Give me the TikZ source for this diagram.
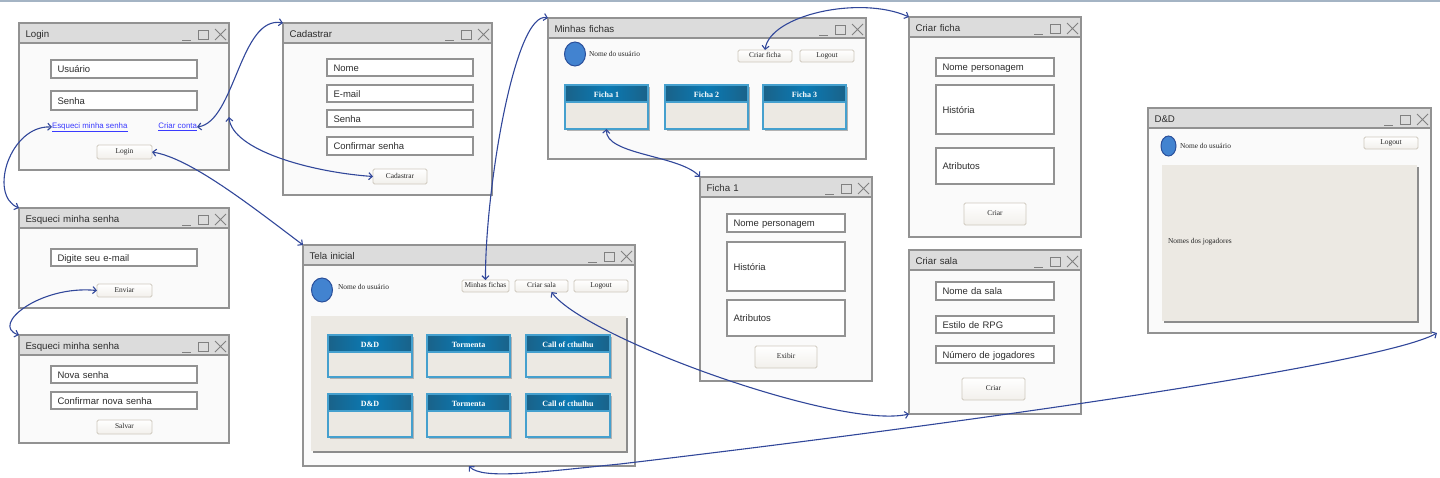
\documentclass[tikz,border=0pt]{standalone}
\usepackage{fontspec}
\setmainfont{Liberation Serif}
\setsansfont{Liberation Sans}
\usetikzlibrary{arrows.meta,shapes.geometric,shadows}
\definecolor{winborder}{HTML}{929292}
\definecolor{winfill}{HTML}{FAFAFA}
\definecolor{winbar}{HTML}{DCDCDC}
\definecolor{wintext}{HTML}{2E2E2E}
\definecolor{panelfill}{HTML}{ECE9E3}
\definecolor{cardedge}{HTML}{45A0CE}
\definecolor{carddark}{HTML}{1A6289}
\definecolor{cardmid}{HTML}{0A7AB4}
\definecolor{btnedge}{HTML}{CFC9BE}
\definecolor{flowblue}{HTML}{31479A}
\definecolor{linkblue}{HTML}{3A3AFF}
\definecolor{avatarfill}{HTML}{4283D0}
\definecolor{avataredge}{HTML}{2A4F9A}
\tikzset{
  every node/.style={inner sep=0, outer sep=0},
  winbox/.style={draw=winborder, line width=1.3pt, fill=winfill, anchor=north west},
  winbar/.style={draw=winborder, line width=1.3pt, fill=winbar, anchor=north west, minimum height=20, align=left,
    text=wintext, text height=9, text depth=1, font=\sffamily\fontsize{9.7}{11}\selectfont},
  winctrl/.style={draw=black!50, line width=0.8pt},
  field/.style 2 args={draw=winborder, line width=1.3pt, fill=white, anchor=north west, minimum width=#1, minimum height=#2,
    text width=#1-13, inner xsep=6.5, align=left, text=wintext, text height=9.5, text depth=2,
    font=\sffamily\fontsize{9.5}{11}\selectfont},
  btn/.style 2 args={draw=btnedge, line width=0.8pt, rounded corners=1.5pt, top color=white, bottom color=panelfill!70,
    anchor=north west, minimum width=#1, minimum height=#2, text=black!85, text height=5, text depth=1.5,
    font=\fontsize{7.4}{9}\selectfont},
  usertext/.style={anchor=west, text=black!85, font=\fontsize{7.4}{9}\selectfont},
  link/.style={anchor=west, text=linkblue, font=\sffamily\fontsize{7.9}{9}\selectfont},
  avatar/.style={ellipse, draw=avataredge, line width=1pt, fill=avatarfill},
  panel/.style={fill=panelfill, anchor=north west, drop shadow={shadow xshift=1.6pt, shadow yshift=-1.6pt, fill=black!45, opacity=1}},
  cardbody/.style={draw=cardedge, line width=1.3pt, fill=panelfill, anchor=north west,
    drop shadow={shadow xshift=1.8pt, shadow yshift=-1.8pt, fill=black!30, opacity=1}},
  cardhead/.style={draw=cardedge, line width=1.3pt, left color=carddark, right color=carddark, middle color=cardmid,
    anchor=north west, minimum height=17, text=white, text height=7, text depth=0, font=\bfseries\fontsize{8}{9}\selectfont},
  flow/.style={draw=flowblue, line width=1.1pt, {Straight Barb[length=3.5pt,width=7pt]}-{Straight Barb[length=3.5pt,width=7pt]}},
}
% window with title bar and the three controls
\newcommand{\appwin}[6]{%
  \node[winbox, minimum width=#4, minimum height=#5] (#1) at (#2,#3) {};
  \node[winbar, minimum width=#4, text width=#4-13, inner xsep=6.5] (#1bar) at (#1.north west) {#6};
  \begin{scope}[shift={(#1.north east)}]
    \draw[winctrl] (-47,17) -- (-38,17);
    \draw[winctrl] (-30.5,7) rectangle (-21,16);
    \draw[winctrl] (-14,6) -- (-3,17) (-14,17) -- (-3,6);
  \end{scope}
}
% card with gradient head
\newcommand{\appcard}[6]{%
  \node[cardbody, minimum width=#4, minimum height=#5] (#1) at (#2,#3) {};
  \node[cardhead, minimum width=#4] (#1head) at (#1.north west) {#6};
}
\begin{document}
\begin{tikzpicture}[x=1pt,y=-1pt]
  \useasboundingbox (0,0) rectangle (1440,477);
  \fill[color={rgb,255:red,164;green,180;blue,196}] (0,0) rectangle (1440,1.5);

  % login
  \appwin{login}{19}{23}{210}{147}{Login}
  \node[field={146}{18}] (loginuser) at (51,60) {Usuário};
  \node[field={146}{19}] (loginpass) at (51,91) {Senha};
  \node[link] (linkforgot) at (52,127) {\underline{Esqueci minha senha}};
  \node[link, anchor=east] (linknew) at (197,127) {\underline{Criar conta}};
  \node[btn={55}{14}] (btnlogin) at (97,145) {Login};

  % cadastrar
  \appwin{signup}{283}{23}{209}{172}{Cadastrar}
  \node[field={146}{17}] (signupname) at (327,59) {Nome};
  \node[field={146}{17}] (signupmail) at (327,85) {E-mail};
  \node[field={146}{17}] (signuppass) at (327,110) {Senha};
  \node[field={146}{18}] (signupconf) at (327,137) {Confirmar senha};
  \node[btn={54}{15}] (btnsignup) at (373,169) {Cadastrar};

  % esqueci minha senha
  \appwin{forgot}{19}{208}{210}{100}{Esqueci minha senha}
  \node[field={146}{17}] (forgotmail) at (51,249) {Digite seu e-mail};
  \node[btn={55}{13}] (btnsend) at (97,284) {Enviar};
  \appwin{reset}{19}{335}{210}{108}{Esqueci minha senha}
  \node[field={146}{17}] (resetnew) at (51,366) {Nova senha};
  \node[field={146}{17}] (resetconf) at (51,392) {Confirmar nova senha};
  \node[btn={55}{14}] (btnsave) at (97,420) {Salvar};

  % tela inicial
  \appwin{home}{303}{245}{332}{221}{Tela inicial}
  \node[avatar, minimum width=21, minimum height=24] (homeavatar) at (322,290) {};
  \node[usertext] (homeuser) at (338,287) {Nome do usuário};
  \node[btn={47}{12}] (btnsheets) at (462,280) {Minhas fichas};
  \node[btn={53}{12}] (btnroom) at (515,280) {Criar sala};
  \node[btn={54}{12}] (btnhomeout) at (574,280) {Logout};
  \node[panel, minimum width=315, minimum height=135] (homepanel) at (311,316) {};
  \foreach \cardy/\cardh/\rown in {335/42/a, 394/43/b}
    \foreach \cardx/\cardw/\cardt/\coln in {328/84/D\&D/x, 427/83/Tormenta/y, 526/84/Call of cthulhu/z}
      {\appcard{room\rown\coln}{\cardx}{\cardy}{\cardw}{\cardh}{\cardt}}

  % minhas fichas
  \appwin{sheets}{548}{18}{318}{141}{Minhas fichas}
  \node[avatar, minimum width=21, minimum height=24] (sheetsavatar) at (575,54) {};
  \node[usertext] (sheetsuser) at (589,54) {Nome do usuário};
  \node[btn={54}{12}] (btnnewsheet) at (738,50) {Criar ficha};
  \node[btn={54}{12}] (btnsheetsout) at (800,50) {Logout};
  \appcard{cardone}{565}{85}{83}{44}{Ficha 1}
  \appcard{cardtwo}{665}{85}{83}{44}{Ficha 2}
  \appcard{cardthree}{763}{85}{83}{44}{Ficha 3}

  % ficha 1
  \appwin{sheetone}{700}{177}{172}{204}{Ficha 1}
  \node[field={118}{18}] (onename) at (727,214) {Nome personagem};
  \node[field={118}{49}] (onestory) at (727,242) {História};
  \node[field={118}{36}] (oneattr) at (727,300) {Atributos};
  \node[btn={62}{22}] (btnshow) at (755,346) {Exibir};

  % criar ficha
  \appwin{newsheet}{909}{17}{172}{220}{Criar ficha}
  \node[field={118}{18}] (newname) at (936,58) {Nome personagem};
  \node[field={118}{49}] (newstory) at (936,85) {História};
  \node[field={118}{36}] (newattr) at (936,148) {Atributos};
  \node[btn={62}{22}] (btnnewsave) at (964,203) {Criar};

  % criar sala
  \appwin{newroom}{909}{250}{172}{164}{Criar sala}
  \node[field={118}{18}] (roomname) at (936,282) {Nome da sala};
  \node[field={118}{17}] (roomstyle) at (936,316) {Estilo de RPG};
  \node[field={118}{17}] (roomcount) at (936,346) {Número de jogadores};
  \node[btn={63}{22}] (btnroomsave) at (962,378) {Criar};

  % sala
  \appwin{game}{1148}{108}{283}{225}{D\&D}
  \node[avatar, minimum width=15, minimum height=20] (gameavatar) at (1168.5,146) {};
  \node[usertext] (gameuser) at (1180,146) {Nome do usuário};
  \node[btn={54}{12}] (btngameout) at (1364,137) {Logout};
  \node[panel, minimum width=255, minimum height=156] (gamepanel) at (1162,165) {};
  \node[usertext] (gameplayers) at (1168,242) {Nomes dos jogadores};

  % connectors
  \coordinate (loginside) at (229,117);
  \coordinate (gamecorner) at (1437,333);
  \draw[flow] (linkforgot.west) .. controls (10,125) and (-12,195) .. (forgot.north west);
  \draw[flow] (linknew.east) .. controls (235,122) and (240,15) .. (signup.north west);
  \draw[flow] (loginside) .. controls (232,150) and (310,172) .. (btnsignup.west);
  \draw[flow] (btnlogin.east) .. controls (190,158) and (250,205) .. (home.north west);
  \draw[flow] (btnsend.west) .. controls (40,285) and (-10,325) .. (reset.north west);
  \draw[flow] (btnsheets.north) .. controls (485,190) and (515,10) .. (sheets.north west);
  \draw[flow] (btnnewsheet.north) .. controls (770,15) and (860,-5) .. (newsheet.north west);
  \draw[flow] (cardone.south) .. controls (605,155) and (680,155) .. (sheetone.north west);
  \draw[flow] ([xshift=10pt]btnroom.south) .. controls (585,338) and (840,430) .. (newroom.south west);
  \draw[flow] (home.south) .. controls (482,480) and (540,472) .. (620,464) .. controls (950,425) and (1380,365) .. (gamecorner);
\end{tikzpicture}
\end{document}
